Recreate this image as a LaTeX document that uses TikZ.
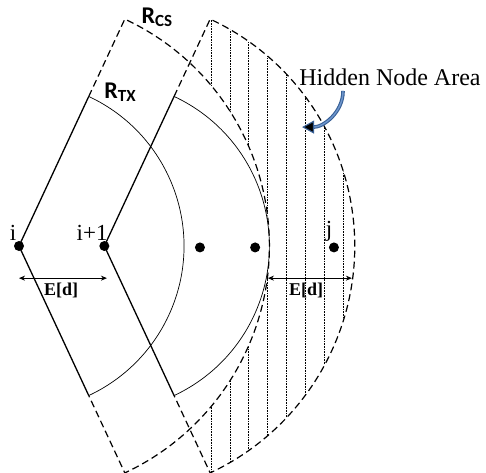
\documentclass[tikz,border=0pt]{standalone}
\usepackage{fontspec}
\setmainfont{Liberation Serif}
\newfontfamily\calibrisans{Carlito}
\usetikzlibrary{arrows.meta}
\definecolor{arrowblue}{RGB}{56,96,150}
\definecolor{arrowlight}{RGB}{110,150,205}
\newcommand{\rlab}[1]{{\calibrisans\bfseries\fontsize{24}{24}\selectfont R\raisebox{-3pt}{\fontsize{17}{17}\selectfont #1}}}

\begin{document}
\begin{tikzpicture}[scale=1.0, >={Stealth[length=6pt,width=5pt]},
    dot/.style={circle, fill, inner sep=0pt, minimum size=10pt},
    rtx/.style={line width=0.7pt},
    edge/.style={line width=1.3pt},
    cs/.style={line width=1.2pt, dash pattern=on 7pt off 4pt},
    hatch/.style={line width=1pt, dash pattern=on 1pt off 0.6pt},
    lab/.style={font=\fontsize{23}{23}\selectfont},
    dlab/.style={font=\fontsize{18}{18}\selectfont\bfseries}]
  \useasboundingbox (-0.668,-7.944) rectangle (16.415,8.647);

  % hidden node area: inside CS range of i+1, outside CS range of i
  \begin{scope}[even odd rule]
    \clip (3,0) -- ++(65:8.8) arc (65:-65:8.8) -- cycle;
    \clip (-1,-9) rectangle (17,10) (0,0) circle (8.8);
    \foreach \k in {0,...,7}
      \draw[hatch] ({6.75+0.667*\k},-9) -- ++(0,19);
  \end{scope}

  % transmission and carrier sense ranges
  \foreach \cx in {0,3} {
    \begin{scope}[shift={(\cx,0)}]
      \draw[edge] (65:5.8) -- (0,0) -- (-65:5.8);
      \draw[rtx] (65:5.8) arc (65:-65:5.8);
      \draw[cs] (65:5.8) -- (65:8.8) arc (65:-65:8.8) -- (-65:5.8);
    \end{scope}
  }

  \node[dot] (ni) at (0,0) {};
  \node[dot] (nii) at (3,0) {};
  \node[dot] (na) at (6.36,-0.05) {};
  \node[dot] (nb) at (8.3,-0.05) {};
  \node[dot] (nj) at (11.07,-0.05) {};

  \node[lab] at (-0.21,0.46) {i};
  \node[lab] at (2.57,0.46) {i+1};
  \node[lab] at (10.9,0.5) {j};

  \node at (4.85,8.05) {\rlab{CS}};
  \node at (3.55,5.41) {\rlab{TX}};

  % E[d] distances
  \coordinate (da) at (0,-1.13);
  \coordinate (db) at (3.09,-1.13);
  \coordinate (dc) at (8.75,-1.13);
  \coordinate (dd) at (11.7,-1.13);
  \draw[<->, thick] (da) -- (db);
  \draw[<->, thick] (dc) -- (dd);
  \node[dlab] at (1.48,-1.55) {E[d]};
  \node[dlab] at (10.09,-1.55) {E[d]};

  \node[font=\fontsize{24}{24}\selectfont] (hna) at (13.04,5.94) {Hidden Node Area};
  \coordinate (hstart) at (11.39,5.45);
  \coordinate (htip) at (9.95,4.18);
  \draw[arrowblue, line width=1.1pt, double=arrowlight, double distance=1.4pt,
        -{Triangle[length=12pt,width=13pt,fill=black]}]
    (hstart) to[out=-90, in=0] (htip);
\end{tikzpicture}
\end{document}
